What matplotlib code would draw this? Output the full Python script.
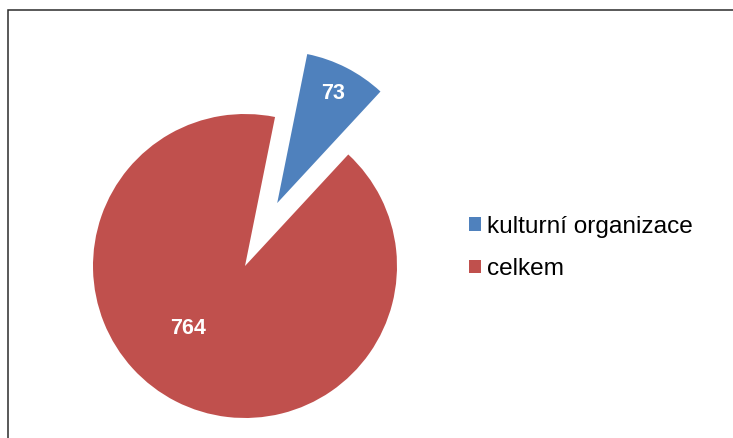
import numpy as np
import matplotlib
matplotlib.use("Agg")
import matplotlib.pyplot as plt
from matplotlib.patches import Rectangle

plt.rcParams["font.family"] = ["Liberation Sans", "DejaVu Sans"]

labels = ["kulturní organizace", "celkem"]
values = [73, 764]
colors = ["#4F81BD", "#C0504D"]
explode = [0.465, 0.0]

W, H = 733, 438
fig = plt.figure(figsize=(W / 100, H / 100), dpi=100)

# pie centred at (245, 266) px, radius 152 px
cx, cy, r = 245, H - 266, 152
half = 1.5 * r
ax = fig.add_axes([(cx - half) / W, (cy - half) / H, 2 * half / W, 2 * half / H])
ax.set_xlim(-1.5, 1.5)
ax.set_ylim(-1.5, 1.5)
ax.axis("off")

wedges, _, autotexts = ax.pie(
    values,
    colors=colors,
    explode=explode,
    startangle=78.6,
    counterclock=False,
    autopct=lambda p: "{:.0f}".format(p * sum(values) / 100),
    pctdistance=0.81,
    radius=1.0,
    wedgeprops=dict(linewidth=0),
    textprops=dict(color="white", fontsize=15.5, fontweight="bold"),
)
ax.set_xlim(-1.5, 1.5)
ax.set_ylim(-1.5, 1.5)
# Excel-style label spot for the big slice
autotexts[1].set_position((-0.375, -0.408))

fig.legend(
    wedges,
    labels,
    loc="center left",
    bbox_to_anchor=(469 / W, 1 - 248 / H),
    frameon=False,
    fontsize=17.6,
    handlelength=0.48,
    handleheight=0.48,
    handletextpad=0.25,
    labelspacing=0.82,
    borderpad=0,
    borderaxespad=0,
)

fig.patches.append(
    Rectangle((7.5 / W, -0.1), 1.2, (H - 10) / H + 0.1,
              transform=fig.transFigure, fill=False,
              edgecolor="#2b2b2b", linewidth=1.1)
)

fig.savefig("out.png", dpi=100)
